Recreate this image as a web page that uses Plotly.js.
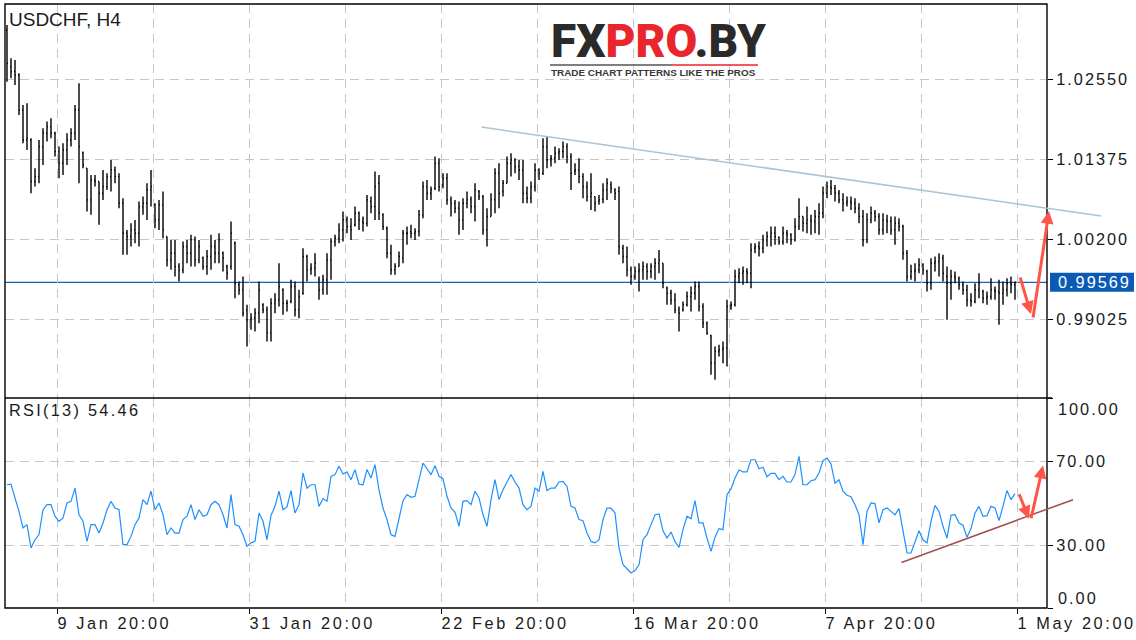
<!DOCTYPE html>
<html><head><meta charset="utf-8">
<script src="https://cdn.plot.ly/plotly-3.0.1.min.js"></script>
<style>
html,body{margin:0;padding:0;background:#fff;}
#chart{width:1136px;height:640px;}
.xtick text{letter-spacing:2.6px;}
.ytick text,.y2tick text{letter-spacing:2px;}
</style></head><body><div id="chart"></div>
<script>
// ---------------- DATA (one value per 8-hour bar) ----------------
const symbol = 'USDCHF, H4';
const rsiPeriod = 13;
const tickLabels = ['9 Jan 20:00','31 Jan 20:00','22 Feb 20:00','16 Mar 20:00','7 Apr 20:00','1 May 20:00'];
const priceTicks = [0.99025, 1.00200, 1.01375, 1.02550];
const rsiTicks = [0, 30, 70, 100];

const open = [
1.03281,1.02742,1.02669,1.02620,1.02105,1.01664,1.01664,1.01052,1.01125,1.01566,
1.01762,1.01860,1.01762,1.01493,1.01321,1.01517,1.01664,1.01762,1.02105,1.01468,
1.01248,1.00782,1.01076,1.01052,1.00880,1.00978,1.01125,1.01223,1.01125,1.00733,
1.00292,1.00243,1.00341,1.00292,1.00684,1.00733,1.00929,1.00709,1.00488,1.00709,
1.00243,0.99900,0.99998,0.99802,0.99753,1.00096,0.99998,1.00194,0.99900,0.99925,
0.99802,0.99949,1.00096,0.99998,0.99998,0.99802,0.99802,1.00145,0.99533,0.99459,
0.99165,0.99018,0.99043,0.99116,0.99239,0.99165,0.98822,0.99263,0.99312,0.99459,
0.99263,0.99288,0.99508,0.99165,0.99410,0.99949,0.99753,0.99778,0.99606,0.99459,
0.99606,0.99900,1.00170,1.00219,1.00341,1.00488,1.00390,1.00415,1.00586,1.00464,
1.00439,1.00758,1.00684,1.01027,1.00562,1.00366,0.99998,0.99753,0.99802,0.99925,
1.00292,1.00317,1.00292,1.00317,1.00562,1.00978,1.00880,1.00954,1.01321,1.01003,
1.01101,1.00782,1.00733,1.00660,1.00488,1.00733,1.00782,1.00684,1.00905,1.00831,
1.00341,1.00537,1.00782,1.01174,1.00905,1.01027,1.01321,1.01370,1.01272,1.01223,
1.00880,1.00807,1.00978,1.01223,1.01174,1.01566,1.01370,1.01395,1.01468,1.01493,
1.01566,1.01419,1.01199,1.01223,1.01125,1.00978,1.00831,1.00831,1.00758,1.00792,
1.00929,1.01003,1.00929,1.00905,1.00072,0.99949,0.99753,0.99655,0.99729,0.99753,
0.99802,0.99729,0.99802,0.99851,0.99851,0.99484,0.99410,0.99312,0.99165,0.99165,
0.99239,0.99361,0.99410,0.99508,0.99214,0.98969,0.98783,0.98381,0.98553,0.98577,
0.98602,0.99214,0.99239,0.99655,0.99704,0.99729,0.99704,1.00072,1.00096,1.00072,
1.00194,1.00243,1.00292,1.00233,1.00170,1.00292,1.00268,1.00194,1.00390,1.00537,
1.00439,1.00488,1.00464,1.00537,1.00586,1.00880,1.00978,1.00954,1.00880,1.00782,
1.00733,1.00758,1.00733,1.00660,1.00537,1.00194,1.00488,1.00586,1.00537,1.00341,
1.00488,1.00464,1.00341,1.00439,1.00390,0.99998,0.99655,0.99729,0.99753,0.99827,
0.99729,0.99557,0.99851,0.99876,0.99925,0.99655,0.99557,0.99655,0.99631,0.99533,
0.99459,0.99312,0.99288,0.99459,0.99435,0.99337,0.99361,0.99459,0.99435,0.99410,
0.99459,0.99557,0.99533];

const high = [
1.03355,1.02865,1.02840,1.02644,1.02179,1.02203,1.01689,1.01248,1.01664,1.01836,
1.01934,1.01983,1.01786,1.01566,1.01615,1.01762,1.01836,1.02179,1.02497,1.01493,
1.01248,1.01150,1.01150,1.01052,1.01223,1.01174,1.01370,1.01272,1.01174,1.00806,
1.00341,1.00439,1.00488,1.00758,1.00831,1.01027,1.01223,1.00733,1.00782,1.00905,
1.00243,1.00194,1.00194,0.99851,1.00170,1.00194,1.00268,1.00243,1.00194,0.99949,
1.00047,1.00268,1.00194,1.00292,1.00023,0.99827,1.00464,1.00170,0.99582,0.99655,
0.99239,0.99116,0.99190,0.99582,0.99263,0.99214,0.99337,0.99410,0.99851,0.99484,
0.99312,0.99606,0.99582,0.99459,1.00072,0.99974,0.99851,0.99998,0.99655,0.99680,
0.99998,1.00219,1.00268,1.00439,1.00610,1.00537,1.00513,1.00684,1.00610,1.00537,
1.00856,1.00831,1.01199,1.01150,1.00586,1.00390,1.00121,0.99851,1.00023,1.00341,
1.00390,1.00415,1.00366,1.00635,1.01052,1.01076,1.00978,1.01419,1.01395,1.01174,
1.01174,1.00831,1.00782,1.00758,1.00806,1.00905,1.00831,1.01027,1.00929,1.00856,
1.00660,1.00880,1.01248,1.01321,1.01076,1.01419,1.01468,1.01395,1.01370,1.01370,
1.00978,1.01052,1.01321,1.01248,1.01689,1.01713,1.01444,1.01566,1.01542,1.01640,
1.01615,1.01468,1.01321,1.01395,1.01174,1.01052,1.01174,1.00831,1.00856,1.01027,
1.01101,1.01052,1.00954,1.00978,1.00121,1.00096,0.99802,0.99802,0.99851,0.99876,
0.99851,0.99851,0.99925,1.00047,0.99851,0.99508,0.99459,0.99410,0.99214,0.99288,
0.99435,0.99508,0.99582,0.99582,0.99263,0.98994,0.98798,0.98626,0.98651,0.98700,
0.99312,0.99288,0.99753,0.99778,0.99802,0.99778,1.00145,1.00145,1.00170,1.00268,
1.00317,1.00390,1.00390,1.00243,1.00390,1.00341,1.00292,1.00513,1.00806,1.00537,
1.00684,1.00562,1.00635,1.00733,1.00978,1.01052,1.01076,1.01003,1.00929,1.00880,
1.00831,1.00831,1.00807,1.00733,1.00635,1.00586,1.00684,1.00635,1.00586,1.00586,
1.00562,1.00537,1.00537,1.00513,1.00415,1.00047,0.99827,0.99851,0.99925,0.99851,
0.99753,0.99925,0.99949,0.99998,0.99974,0.99802,0.99753,0.99729,0.99655,0.99582,
0.99533,0.99410,0.99557,0.99704,0.99459,0.99435,0.99631,0.99508,0.99606,0.99582,
0.99631,0.99655,0.99582];

const low = [
1.02521,1.02571,1.02473,1.02032,1.01615,1.01517,1.00880,1.00978,1.01027,1.01297,
1.01640,1.01689,1.01419,1.01101,1.01150,1.01297,1.01566,1.01664,1.01027,1.01248,
1.00610,1.00562,1.00978,1.00415,1.00782,1.00929,1.00905,1.01027,1.00660,0.99974,
0.99974,1.00096,1.00145,1.00096,1.00562,1.00488,1.00684,1.00366,1.00341,1.00219,
0.99802,0.99753,0.99655,0.99582,0.99704,0.99851,0.99802,0.99802,0.99851,0.99753,
0.99680,0.99753,0.99851,0.99851,0.99729,0.99606,0.99753,0.99337,0.99386,0.99067,
0.98626,0.98871,0.98847,0.98969,0.99116,0.98700,0.98700,0.99116,0.99214,0.99092,
0.99141,0.99263,0.99067,0.99043,0.99386,0.99582,0.99680,0.99655,0.99312,0.99386,
0.99386,0.99606,1.00096,1.00145,1.00170,1.00292,1.00194,1.00390,1.00341,1.00317,
1.00390,1.00586,1.00488,1.00488,1.00341,0.99925,0.99680,0.99680,0.99802,0.99851,
1.00121,1.00219,1.00194,1.00243,1.00513,1.00782,1.00782,1.00929,1.00905,1.00954,
1.00709,1.00537,1.00586,1.00268,1.00341,1.00660,1.00586,1.00464,1.00782,1.00268,
1.00096,1.00537,1.00586,1.00660,1.00831,1.01027,1.01125,1.01174,1.01076,1.00733,
1.00733,1.00733,1.00905,1.01076,1.01150,1.01248,1.01272,1.01321,1.01370,1.01395,
1.01321,1.00929,1.01150,1.01027,1.00807,1.00758,1.00635,1.00610,1.00709,1.00733,
1.00782,1.00880,1.00782,0.99974,0.99851,0.99655,0.99533,0.99606,0.99435,0.99606,
0.99606,0.99631,0.99606,0.99704,0.99484,0.99239,0.99239,0.99116,0.98847,0.99141,
0.99214,0.99141,0.99312,0.99141,0.98896,0.98798,0.98210,0.98136,0.98479,0.98381,
0.98332,0.99165,0.99214,0.99557,0.99533,0.99557,0.99484,0.99998,0.99949,0.99998,
1.00096,1.00096,1.00121,1.00121,1.00121,1.00145,1.00121,1.00170,1.00341,1.00317,
1.00292,1.00268,1.00292,1.00268,1.00513,1.00807,1.00856,1.00758,1.00733,1.00610,
1.00684,1.00635,1.00586,1.00439,1.00096,1.00145,1.00439,1.00464,1.00268,1.00268,
1.00292,1.00268,1.00121,1.00317,0.99900,0.99582,0.99606,0.99582,0.99704,0.99680,
0.99435,0.99459,0.99729,0.99655,0.99582,0.99018,0.99312,0.99557,0.99459,0.99386,
0.99214,0.99214,0.99263,0.99337,0.99263,0.99239,0.99312,0.99312,0.98944,0.99239,
0.99361,0.99410,0.99312];

const close = [
1.02791,1.02669,1.02620,1.02105,1.01664,1.01689,1.01052,1.01125,1.01566,1.01762,
1.01860,1.01762,1.01493,1.01321,1.01517,1.01664,1.01762,1.02105,1.01566,1.01297,
1.00782,1.01076,1.01052,1.00880,1.00978,1.01125,1.01223,1.01125,1.00733,1.00292,
1.00243,1.00341,1.00292,1.00684,1.00733,1.00929,1.00978,1.00488,1.00709,1.00341,
0.99900,0.99998,0.99802,0.99753,1.00096,0.99998,1.00194,0.99900,1.00096,0.99802,
0.99949,1.00096,0.99998,1.00194,0.99925,0.99704,1.00292,0.99557,0.99459,0.99116,
0.99018,0.99043,0.99116,0.99459,0.99165,0.98822,0.99263,0.99312,0.99508,0.99263,
0.99263,0.99508,0.99165,0.99361,0.99949,0.99753,0.99778,0.99851,0.99459,0.99606,
0.99900,1.00170,1.00219,1.00341,1.00488,1.00390,1.00341,1.00586,1.00488,1.00439,
1.00782,1.00684,1.00978,1.00586,1.00390,0.99998,0.99753,0.99802,0.99949,1.00292,
1.00292,1.00292,1.00317,1.00562,1.00978,1.00880,1.00929,1.01321,1.00978,1.01101,
1.00782,1.00733,1.00660,1.00488,1.00733,1.00782,1.00684,1.00929,1.00831,1.00341,
1.00537,1.00782,1.01174,1.00880,1.01027,1.01321,1.01370,1.01272,1.01223,1.00880,
1.00807,1.00978,1.01223,1.01174,1.01566,1.01370,1.01395,1.01468,1.01493,1.01566,
1.01419,1.01174,1.01223,1.01125,1.00978,1.00831,1.00880,1.00733,1.00782,1.00929,
1.01027,1.00954,1.00880,1.00096,0.99949,0.99753,0.99655,0.99729,0.99753,0.99802,
0.99729,0.99802,0.99851,0.99900,0.99557,0.99410,0.99312,0.99165,0.99116,0.99239,
0.99361,0.99410,0.99508,0.99214,0.98969,0.98822,0.98381,0.98553,0.98577,0.98602,
0.99214,0.99239,0.99655,0.99704,0.99729,0.99704,1.00047,1.00096,1.00072,1.00194,
1.00243,1.00292,1.00243,1.00170,1.00292,1.00268,1.00194,1.00390,1.00537,1.00439,
1.00488,1.00464,1.00537,1.00586,1.00880,1.00978,1.00954,1.00880,1.00782,1.00733,
1.00758,1.00733,1.00660,1.00537,1.00194,1.00488,1.00586,1.00537,1.00341,1.00488,
1.00464,1.00341,1.00439,1.00390,0.99998,0.99655,0.99729,0.99753,0.99827,0.99753,
0.99557,0.99851,0.99876,0.99925,0.99704,0.99557,0.99655,0.99631,0.99533,0.99459,
0.99312,0.99288,0.99459,0.99557,0.99337,0.99361,0.99459,0.99435,0.99410,0.99459,
0.99557,0.99533,0.99569];

const rsi = [
58.7,59.0,52.4,46.0,38.1,39.7,28.6,32.5,35.0,46.8,
49.2,49.2,43.7,41.3,42.9,50.0,50.8,57.1,44.4,41.3,
31.7,39.7,39.7,35.7,40.5,46.8,50.8,47.6,46.8,30.2,
30.2,34.1,39.7,42.9,51.6,49.2,55.6,46.8,50.0,44.4,
34.9,38.1,35.7,35.7,42.1,43.7,49.2,42.1,46.8,43.7,
44.4,49.2,50.8,49.2,44.4,38.1,54.0,39.7,38.9,34.9,
29.4,31.0,31.7,45.2,41.3,
32.5,44.1,48.4,55.6,46.8,48.1,55.9,45.2,49.2,64.3,
57.1,58.7,58.7,48.4,52.1,50.8,62.7,63.5,67.5,63.8,
64.8,61.1,65.9,59.0,58.7,65.9,61.9,68.3,56.3,47.6,
42.1,34.9,34.1,42.5,51.1,54.0,52.7,53.2,60.6,69.0,
66.3,63.5,67.8,62.7,61.6,53.2,47.6,45.7,38.9,50.8,
51.1,49.2,55.6,52.4,44.4,38.9,51.6,61.1,51.6,56.3,
60.0,63.5,60.0,57.1,49.2,
46.8,48.4,57.1,55.6,65.1,55.9,57.1,57.1,60.0,60.3,
57.9,48.4,47.6,42.1,41.6,35.7,31.7,31.0,32.5,42.1,
47.6,47.6,45.2,28.6,20.6,18.7,16.7,17.8,20.6,32.5,
34.9,39.7,44.4,44.8,36.8,33.3,36.2,31.7,28.9,37.3,
43.7,42.5,51.1,40.5,40.5,33.3,27.0,33.7,37.8,37.3,
54.0,56.7,61.9,65.7,64.8,64.8,70.6,70.6,66.3,67.0,
62.5,64.1,64.1,61.1,62.7,
60.0,60.0,63.5,72.2,58.7,58.7,60.6,61.1,64.3,70.2,
71.4,68.6,59.5,61.1,55.6,53.7,53.0,49.2,44.4,30.2,
46.0,50.0,49.7,40.5,46.8,47.6,46.0,44.4,47.3,36.5,
26.2,26.2,31.7,36.8,32.5,31.0,41.3,48.9,46.0,38.9,
33.3,44.1,44.4,40.5,39.4,33.7,37.8,45.2,48.4,43.7,
44.0,48.4,47.6,41.6,48.4,56.0,51.6,54.46];

// ---------------- LAYOUT GEOMETRY ----------------
const W = 1136, H = 640, L = 5, R = 1047, T = 4, B = 608, SEP = 398;
const paperW = W - L;
const xEnd = (R - L) / paperW;
const split = (B - SEP) / (B - T);
const px2x = px => (px - L) / paperW;
const px2y = py => (B - py) / (B - T);
const priceRange = [0.97868, 1.03664];
const ppp = (priceRange[1] - priceRange[0]) / (SEP - T);
const font = "'Liberation Sans', Arial, Helvetica, sans-serif";
const gridColor = '#c6c6c6';
const n = close.length;
const bars = close.map((_, i) => i);
const last = close[n - 1];

const firstLabelBar = 12.5, barsPerLabel = 48;
const labelVals = tickLabels.map((_, k) => firstLabelBar + k * barsPerLabel);
const minorVals = tickLabels.slice(0, -1).map((_, k) => firstLabelBar + barsPerLabel / 2 + k * barsPerLabel);

const traces = [
  {type: 'ohlc', x: bars, open: open, high: high, low: low, close: close,
   xaxis: 'x', yaxis: 'y', tickwidth: 0.25,
   increasing: {line: {color: '#000', width: 1.4}},
   decreasing: {line: {color: '#000', width: 1.4}},
   hoverinfo: 'skip', showlegend: false},
  {type: 'scatter', mode: 'lines', x: bars, y: rsi, xaxis: 'x', yaxis: 'y2',
   line: {color: '#1e90ff', width: 1.2}, hoverinfo: 'skip', showlegend: false}
];

function seg(x0, y0, x1, y1, yref, color, width, head) {
  return {xref: 'x', yref: yref, axref: 'x', ayref: yref, x: x1, y: y1, ax: x0, ay: y0,
    text: '', showarrow: true, arrowhead: head ? 2 : 0, arrowsize: head ? 0.85 : 1,
    arrowwidth: width, arrowcolor: color, standoff: 0, startstandoff: 0,
    borderpad: 0, font: {size: 1}};
}
const red = '#ff5448';

const annotations = [
  {xref: 'paper', yref: 'paper', x: px2x(7), y: 1, xanchor: 'left', yanchor: 'top', yshift: -3,
   text: symbol, showarrow: false, font: {family: font, size: 19, color: '#1a1a1a'}, align: 'left'},
  {xref: 'paper', yref: 'paper', x: px2x(7), y: split, xanchor: 'left', yanchor: 'top', yshift: -1,
   text: '<span style="letter-spacing:2.3px">RSI(' + rsiPeriod + ') ' + rsi[n - 1].toFixed(2) + '</span>',
   showarrow: false, font: {family: font, size: 16.3, color: '#1a1a1a'}, align: 'left'},
  {xref: 'paper', yref: 'y', x: px2x(1056), y: last, xanchor: 'left', yanchor: 'middle',
   text: '<span style="letter-spacing:2px">' + last.toFixed(5) + '</span>', showarrow: false,
   font: {family: font, size: 16.3, color: '#ffffff'}, align: 'left'},
  {xref: 'paper', yref: 'y2', x: px2x(1056), y: 100, xanchor: 'left', yanchor: 'middle', yshift: -11,
   text: '<span style="letter-spacing:2px">100.00</span>', showarrow: false,
   font: {family: font, size: 16.3, color: '#1a1a1a'}, align: 'left'},
  {xref: 'paper', yref: 'y2', x: px2x(1056), y: 0, xanchor: 'left', yanchor: 'middle', yshift: 10,
   text: '<span style="letter-spacing:2px">0.00</span>', showarrow: false,
   font: {family: font, size: 16.3, color: '#1a1a1a'}, align: 'left'},
  // logo
  {xref: 'paper', yref: 'paper', x: px2x(549), y: px2y(41), xanchor: 'left', yanchor: 'middle',
   text: 'FX<span style="color:#e8262c">PRO</span>.BY', showarrow: false,
   font: {family: 'Roboto, ' + font, size: 46, weight: 900, color: '#2a2a2a'}},
  {xref: 'paper', yref: 'paper', x: px2x(549), y: px2y(73), xanchor: 'left', yanchor: 'middle',
   text: 'TRADE CHART PATTERNS LIKE THE PROS', showarrow: false,
   font: {family: font, size: 9.9, weight: 700, color: '#383838'}},
  // trend lines and arrows
  seg(118.5, 1.01854, 273.5, 1.00545, 'y', '#a9c4d6', 1.5, false),
  seg(253.25, 0.99648, 256.0, 0.99103, 'y', red, 3, true),
  seg(256.5, 0.99044, 260.5, 1.00619, 'y', red, 3, true),
  seg(223.5, 21.6, 266.5, 51.6, 'y2', '#a0524f', 1.6, false),
  seg(253.0, 54.4, 255.5, 42.5, 'y2', red, 3, true),
  seg(256.0, 42.5, 259.0, 67.8, 'y2', red, 3, true)
];

const shapes = [
  {type: 'line', xref: 'x domain', x0: 0, x1: 1, yref: 'y', y0: last, y1: last,
   line: {color: '#1b5fae', width: 1.3}, layer: 'below'},
  {type: 'rect', xref: 'paper', x0: px2x(1050), x1: px2x(1134), yref: 'y',
   y0: last - 9.5 * ppp, y1: last + 9.5 * ppp, fillcolor: '#0b5bb6', line: {width: 0}},
  {type: 'rect', xref: 'paper', x0: 0, x1: xEnd, yref: 'paper', y0: 0, y1: 1,
   line: {color: '#000', width: 1.4}},
  {type: 'line', xref: 'paper', x0: 0, x1: px2x(R + 5), yref: 'paper', y0: split, y1: split,
   line: {color: '#000', width: 1.4}},
  {type: 'line', xref: 'paper', x0: px2x(550), x1: px2x(672), yref: 'paper', y0: px2y(65), y1: px2y(65),
   line: {color: '#555', width: 1.5}},
  {type: 'line', xref: 'paper', x0: px2x(672), x1: px2x(758), yref: 'paper', y0: px2y(65), y1: px2y(65),
   line: {color: '#e8262c', width: 1.5}}
];

const tickFont = {family: font, size: 16.3, color: '#1a1a1a'};
const layout = {
  width: W, height: H, margin: {l: L, r: 0, t: T, b: H - B, pad: 0},
  paper_bgcolor: '#fff', plot_bgcolor: '#fff', showlegend: false, hovermode: false, dragmode: false,
  xaxis: {domain: [0, xEnd], range: [-0.5, 260], anchor: 'y2', rangeslider: {visible: false},
    tickmode: 'array', tickvals: labelVals, ticktext: tickLabels, ticks: 'outside', ticklen: 5,
    tickcolor: '#000', tickwidth: 1, ticklabelposition: 'outside right', tickfont: tickFont,
    showgrid: true, gridcolor: gridColor, griddash: '9px,6px', gridwidth: 1, zeroline: false,
    showline: false, fixedrange: true,
    minor: {tickmode: 'array', tickvals: minorVals, showgrid: true, gridcolor: gridColor,
            griddash: '9px,6px', gridwidth: 1, ticks: ''}},
  yaxis: {domain: [split, 1], range: priceRange, anchor: 'x', side: 'right',
    tickmode: 'array', tickvals: priceTicks, tickformat: '.5f', ticks: 'outside', ticklen: 5,
    tickcolor: '#000', tickfont: tickFont, showgrid: true, gridcolor: gridColor, griddash: '9px,6px',
    zeroline: false, showline: false, fixedrange: true},
  yaxis2: {domain: [0, split], range: [0, 100], anchor: 'x', side: 'right',
    tickmode: 'array', tickvals: rsiTicks, ticktext: rsiTicks.map(v => (v === 30 || v === 70) ? v.toFixed(2) : ''),
    ticks: 'outside', ticklen: 5, tickcolor: '#000', tickfont: tickFont,
    showgrid: true, gridcolor: gridColor, griddash: '9px,6px', zeroline: false, showline: false, fixedrange: true},
  annotations: annotations,
  shapes: shapes
};

Plotly.newPlot('chart', traces, layout, {staticPlot: true, displayModeBar: false});
</script></body></html>
